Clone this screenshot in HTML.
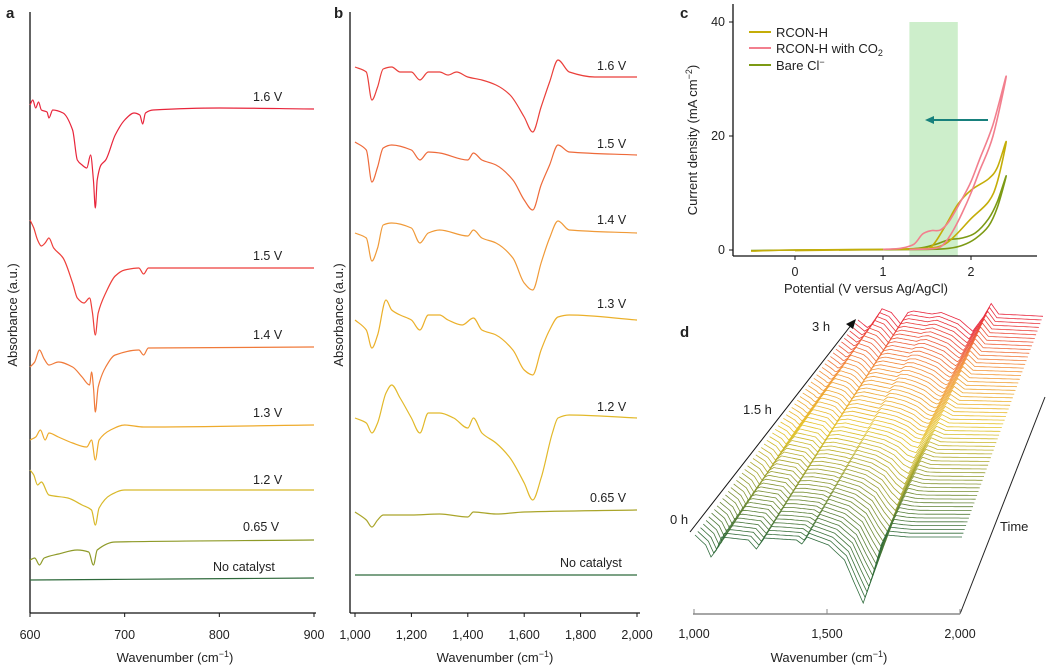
<!DOCTYPE html>
<html><head><meta charset="utf-8">
<style>
html,body{margin:0;padding:0;background:#fff;}
svg{display:block;font-family:"Liberation Sans",Arial,sans-serif;}
text{fill:#222;}
</style></head>
<body>
<svg id="fig" width="1056" height="667" viewBox="0 0 1056 667" xmlns="http://www.w3.org/2000/svg">
  <text x="6" y="18" font-size="15" font-weight="bold">a</text>
  <text x="334" y="18" font-size="15" font-weight="bold">b</text>
  <text x="680" y="18" font-size="15" font-weight="bold">c</text>
  <text x="680" y="337" font-size="15" font-weight="bold">d</text>

  <g stroke="#111" stroke-width="1.3" fill="none">
    <line x1="30" y1="12" x2="30" y2="613"/>
    <line x1="30" y1="613" x2="316" y2="613"/>
  </g>
  <g id="a-ticks"></g>
  <text x="175" y="662" font-size="13" text-anchor="middle">Wavenumber (cm<tspan font-size="9" dy="-5">−1</tspan><tspan dy="5">)</tspan></text>
  <text transform="translate(17,315) rotate(-90)" font-size="13" text-anchor="middle">Absorbance (a.u.)</text>
  <g id="a-curves"></g>

  <g stroke="#111" stroke-width="1.3" fill="none">
    <line x1="350" y1="12" x2="350" y2="613"/>
    <line x1="350" y1="613" x2="640" y2="613"/>
  </g>
  <g id="b-ticks"></g>
  <text x="495" y="662" font-size="13" text-anchor="middle">Wavenumber (cm<tspan font-size="9" dy="-5">−1</tspan><tspan dy="5">)</tspan></text>
  <text transform="translate(343,315) rotate(-90)" font-size="13" text-anchor="middle">Absorbance (a.u.)</text>
  <g id="b-curves"></g>

  <rect id="c-band" fill="#cdeecb"/>
  <g stroke="#111" stroke-width="1.3" fill="none">
    <line x1="733" y1="4" x2="733" y2="256"/>
    <line x1="733" y1="256" x2="1037" y2="256"/>
  </g>
  <g id="c-ticks"></g>
  <text x="866" y="293" font-size="13" text-anchor="middle">Potential (V versus Ag/AgCl)</text>
  <text transform="translate(697,140) rotate(-90)" font-size="13" text-anchor="middle">Current density (mA cm<tspan font-size="9" dy="-5">−2</tspan><tspan dy="5">)</tspan></text>
  <g id="c-curves"></g>
  <g>
    <line x1="988" y1="120" x2="932" y2="120" stroke="#17807c" stroke-width="2"/>
    <polygon points="925,120 934,116 934,124" fill="#17807c"/>
  </g>
  <g font-size="13">
    <g><line x1="749" y1="32" x2="771" y2="32" stroke="#c4ad08" stroke-width="2"/><text x="776" y="37">RCON-H</text></g>
    <g><line x1="749" y1="48" x2="771" y2="48" stroke="#f27f8e" stroke-width="2"/><text x="776" y="53">RCON-H with CO<tspan font-size="9" dy="3">2</tspan></text></g>
    <g><line x1="749" y1="65" x2="771" y2="65" stroke="#7c9a14" stroke-width="2"/><text x="776" y="70">Bare Cl<tspan font-size="9" dy="-5">−</tspan></text></g>
  </g>

  <g id="d-curves"></g>
  <g fill="none">
    <line x1="693" y1="614" x2="960" y2="614" stroke="#888" stroke-width="1.5"/>
    <line x1="960" y1="614" x2="1045" y2="397" stroke="#222" stroke-width="1"/>
    <line x1="690" y1="532" x2="852" y2="324" stroke="#111" stroke-width="1"/>
    <polygon points="856,319 846,324 853,329" fill="#111"/>
  </g>
  <g id="d-ticks"></g>
  <text x="812" y="331" font-size="13">3 h</text>
  <text x="743" y="414" font-size="13">1.5 h</text>
  <text x="670" y="524" font-size="13">0 h</text>
  <text x="1000" y="531" font-size="13">Time</text>
  <text x="829" y="662" font-size="13" text-anchor="middle">Wavenumber (cm<tspan font-size="9" dy="-5">−1</tspan><tspan dy="5">)</tspan></text>
</svg>
<script>
// ---------- Panel a data ----------
const aLabels = ["1.6 V","1.5 V","1.4 V","1.3 V","1.2 V","0.65 V","No catalyst"];
const aOffsets = [500,342,263,185,120,70,32];
const aColors = ["#e8253b","#ee3f3a","#f07a3a","#eeab2c","#d8b92a","#8e9a28","#2f6a3c"];
const aSpec16 = [[600,5],[603,10],[606,2],[609,8],[612,0],[618,-2],[620,-8],[624,0],[635,-3],[645,-20],[650,-50],[655,-55],[660,-58],[664,-45],[667,-70],[669,-98],[671,-70],[675,-55],[680,-50],[690,-25],[700,-10],[710,-3],[716,-5],[719,-14],[722,-3],[730,0],[800,2],[900,1]];
const aSpec15 = [[600,48],[604,40],[608,28],[612,22],[616,25],[620,30],[625,20],[635,10],[645,-15],[650,-30],[657,-35],[663,-30],[666,-45],[669,-67],[672,-45],[680,-25],[690,-8],[700,-2],[715,0],[720,-6],[725,0],[900,0]];
const aSpec14 = [[600,-20],[605,-15],[610,-3],[615,-12],[620,-18],[630,-15],[645,-20],[655,-30],[663,-38],[665,-25],[667,-40],[669,-65],[672,-40],[680,-20],[690,-8],[715,-3],[720,-8],[725,-1],[900,0]];
const aSpec13 = [[600,-15],[606,-12],[611,-5],[616,-15],[620,-8],[630,-12],[645,-18],[660,-22],[665,-15],[669,-35],[673,-15],[685,-5],[700,0],[720,-2],[900,0]];
const aSpec12 = [[600,20],[604,15],[608,5],[612,8],[620,-5],[640,-8],[655,-15],[665,-20],[669,-35],[673,-18],[685,-5],[700,0],[900,0]];
const aSpec065 = [[600,-20],[605,-18],[610,-25],[615,-18],[630,-14],[650,-10],[662,-12],[667,-25],[671,-10],[690,-2],[900,0]];
const aSpecNone = [[600,-2],[750,-1],[900,0]];
const aSpectra = [aSpec16,aSpec15,aSpec14,aSpec13,aSpec12,aSpec065,aSpecNone];
const aTicks = [600,700,800,900];
const aLabelPos = [[253,101],[253,260],[253,339],[253,417],[253,484],[243,531],[213,571]];

// ---------- Panel b data ----------
const bLabels = ["1.6 V","1.5 V","1.4 V","1.3 V","1.2 V","0.65 V","No catalyst"];
const bOffsets = [535,457,379,292,194,100,37];
const bColors = ["#ea3f3a","#ee6a3a","#f09a38","#ebb02a","#e2b92a","#aaa52a","#2f6a3c"];
const bSpec16 = [[1000,10],[1040,5],[1060,-23],[1080,-10],[1100,8],[1130,10],[1160,5],[1200,5],[1230,-3],[1260,5],[1300,5],[1330,2],[1360,5],[1400,0],[1450,-3],[1500,-8],[1550,-18],[1600,-40],[1630,-55],[1660,-30],[1690,-5],[1720,17],[1760,5],[1850,0],[2000,0]];
const bSpec15 = [[1000,13],[1040,5],[1060,-27],[1080,-12],[1100,7],[1130,10],[1200,5],[1230,-5],[1260,3],[1300,2],[1400,-5],[1420,2],[1450,-5],[1500,-10],[1560,-25],[1600,-45],[1630,-55],[1660,-30],[1690,-10],[1720,10],[1760,3],[2000,0]];
const bSpec14 = [[1000,0],[1040,-5],[1060,-28],[1080,-15],[1100,8],[1130,10],[1200,5],[1230,-10],[1260,0],[1300,3],[1400,-3],[1420,3],[1450,-5],[1500,-10],[1560,-25],[1600,-50],[1630,-57],[1660,-30],[1690,-5],[1720,12],[1760,3],[2000,0]];
const bSpec13 = [[1000,0],[1040,-10],[1060,-28],[1080,-15],[1110,20],[1130,10],[1160,5],[1200,0],[1230,-10],[1260,5],[1300,5],[1330,0],[1380,-5],[1420,2],[1450,-10],[1500,-15],[1560,-30],[1600,-50],[1630,-55],[1660,-30],[1690,-10],[1720,3],[1760,5],[2000,0]];
const bSpec12 = [[1000,0],[1040,-5],[1060,-15],[1080,-5],[1110,25],[1130,33],[1160,20],[1200,0],[1230,-15],[1260,5],[1300,5],[1350,0],[1400,-10],[1420,0],[1450,-15],[1500,-25],[1550,-40],[1600,-65],[1630,-82],[1660,-60],[1700,-15],[1720,0],[1760,3],[2000,0]];
const bSpec065 = [[1000,0],[1040,-8],[1060,-15],[1080,-8],[1100,-3],[1200,-3],[1300,-2],[1400,-5],[1420,0],[1500,-2],[1600,0],[2000,2]];
const bSpecNone = [[1000,0],[1500,0],[2000,0]];
const bSpectra = [bSpec16,bSpec15,bSpec14,bSpec13,bSpec12,bSpec065,bSpecNone];
const bTicks = [1000,1200,1400,1600,1800,2000];
const bTickLabels = ["1,000","1,200","1,400","1,600","1,800","2,000"];
const bLabelPos = [[597,70],[597,148],[597,224],[597,308],[597,411],[590,502],[560,567]];

// ---------- Panel c data ----------
const cXTicks = [0,1,2];
const cYTicks = [0,20,40];
const cBand = [1.3,1.85];
const cRconH = [[-0.5,-0.2],[0,0],[1,0.1],[1.4,0.2],[1.55,0.6],[1.7,4],[1.85,8],[2.0,10.5],[2.2,12.5],[2.3,14.5],[2.4,19],[2.3,12],[2.2,8.5],[2.0,5.5],[1.85,3],[1.7,1],[1.5,0.3],[1.0,0.1],[0,-0.1]];
const cRconCO2 = [[1.0,0.1],[1.2,0.3],[1.35,1],[1.45,2.8],[1.55,3.4],[1.65,3.5],[1.75,5],[1.9,9],[2.0,12],[2.1,16],[2.25,22],[2.4,30.5],[2.25,20],[2.1,14],[2.0,10],[1.9,6.5],[1.8,3.5],[1.7,1.2],[1.6,0.3],[1.3,0.1]];
const cBareCl = [[-0.5,-0.1],[0,0],[1,0.1],[1.4,0.3],[1.6,1],[1.75,1.8],[1.9,2.1],[2.05,3],[2.2,5.5],[2.3,8.5],[2.4,13],[2.3,7.5],[2.2,4.2],[2.05,2],[1.9,0.8],[1.75,0.3],[1.5,0.1],[0.5,0]];
const cSeries = [cBareCl,cRconH,cRconCO2];
const cColors = ["#7c9a14","#c4ad08","#f27f8e"];

// ---------- Panel d data ----------
const dTicks = [1000,1500,2000];
const dTickLabels = ["1,000","1,500","2,000"];
const dTraceCount = 60;
const dSpec0h = [[1000,0],[1040,-10],[1060,-22],[1080,-15],[1100,-2],[1200,-5],[1230,-14],[1260,-3],[1380,-5],[1400,-9],[1420,-2],[1500,-10],[1560,-25],[1600,-50],[1630,-68],[1660,-45],[1700,-8],[1720,0],[1800,-2],[2000,-2]];
const dSpec15h = [[1000,0],[1040,-6],[1060,-12],[1080,-6],[1120,5],[1200,0],[1230,-8],[1260,2],[1300,3],[1400,-3],[1420,2],[1500,-3],[1560,-10],[1600,-18],[1630,-20],[1660,-10],[1700,2],[1720,8],[1760,3],[2000,2]];
const dSpec3h = [[1000,0],[1050,-10],[1080,-5],[1130,15],[1180,10],[1230,-5],[1270,10],[1300,12],[1400,8],[1450,10],[1550,0],[1620,-15],[1680,5],[1720,22],[1760,8],[2000,5]];

const NS = "http://www.w3.org/2000/svg";
function mk(tag, attrs, parent){const e=document.createElementNS(NS,tag);for(const k in attrs)e.setAttribute(k,attrs[k]);parent.appendChild(e);return e;}
function interp(spec, x){
  if(x<=spec[0][0])return spec[0][1];
  for(let i=1;i<spec.length;i++){if(x<=spec[i][0]){const a=spec[i-1],b=spec[i];return a[1]+(b[1]-a[1])*(x-a[0])/(b[0]-a[0]);}}
  return spec[spec.length-1][1];
}
// monotone-x cubic (no loops)
function monoPath(pts){
  const n=pts.length, sec=[], m=[];
  for(let i=0;i<n-1;i++)sec.push((pts[i+1][1]-pts[i][1])/(pts[i+1][0]-pts[i][0]));
  for(let i=0;i<n;i++){
    if(i===0)m.push(sec[0]);else if(i===n-1)m.push(sec[n-2]);
    else m.push(sec[i-1]*sec[i]<=0?0:2/(1/sec[i-1]+1/sec[i]));
  }
  let d="M"+pts[0][0].toFixed(1)+","+pts[0][1].toFixed(1);
  for(let i=0;i<n-1;i++){
    const dx=(pts[i+1][0]-pts[i][0])/3;
    d+=" C"+(pts[i][0]+dx).toFixed(1)+","+(pts[i][1]+m[i]*dx).toFixed(1)+" "+(pts[i+1][0]-dx).toFixed(1)+","+(pts[i+1][1]-m[i+1]*dx).toFixed(1)+" "+pts[i+1][0].toFixed(1)+","+pts[i+1][1].toFixed(1);
  }
  return d;
}
function smoothPath(pts){
  let d="M"+pts[0][0].toFixed(1)+","+pts[0][1].toFixed(1);
  for(let i=0;i<pts.length-1;i++){
    const p0=pts[i-1]||pts[i],p1=pts[i],p2=pts[i+1],p3=pts[i+2]||p2;
    const c1=[p1[0]+(p2[0]-p0[0])/6,p1[1]+(p2[1]-p0[1])/6];
    const c2=[p2[0]-(p3[0]-p1[0])/6,p2[1]-(p3[1]-p1[1])/6];
    d+=" C"+c1[0].toFixed(1)+","+c1[1].toFixed(1)+" "+c2[0].toFixed(1)+","+c2[1].toFixed(1)+" "+p2[0].toFixed(1)+","+p2[1].toFixed(1);
  }
  return d;
}

// Panel a
const axA = v => 30 + (v-600)*(314-30)/300;
const ayA = v => 610 - v;
const gA = document.getElementById("a-curves");
aSpectra.forEach((s,i)=>{
  const pts=s.map(p=>[axA(p[0]),ayA(aOffsets[i]+p[1])]);
  const p=mk("path",{d:monoPath(pts),fill:"none",stroke:aColors[i],"stroke-width":1.2},gA);
  
  const t=mk("text",{x:aLabelPos[i][0],y:aLabelPos[i][1],"font-size":12.5},gA);
  
  
  t.textContent=aLabels[i];
});
const tA=document.getElementById("a-ticks");
aTicks.forEach(v=>{
  mk("line",{x1:axA(v),x2:axA(v),y1:613,y2:617,stroke:"#111"},tA);
  const t=mk("text",{x:axA(v),y:639,"font-size":12.5,"text-anchor":"middle"},tA);
  
  
  t.textContent=v;
});

// Panel b
const axB = v => 355 + (v-1000)*(637-355)/1000;
const ayB = v => 612 - v;
const gB = document.getElementById("b-curves");
bSpectra.forEach((s,i)=>{
  const pts=s.map(p=>[axB(p[0]),ayB(bOffsets[i]+p[1])]);
  const p=mk("path",{d:monoPath(pts),fill:"none",stroke:bColors[i],"stroke-width":1.2},gB);
  
  const t=mk("text",{x:bLabelPos[i][0],y:bLabelPos[i][1],"font-size":12.5},gB);
  
  
  t.textContent=bLabels[i];
});
const tB=document.getElementById("b-ticks");
bTicks.forEach((v,i)=>{
  mk("line",{x1:axB(v),x2:axB(v),y1:613,y2:617,stroke:"#111"},tB);
  const t=mk("text",{x:axB(v),y:639,"font-size":12.5,"text-anchor":"middle"},tB);
  
  
  t.textContent=bTickLabels[i];
});

// Panel c
const axC = v => 795 + v*88;
const ayC = v => 250 - v*5.7;
const band=document.getElementById("c-band");
band.setAttribute("x",axC(cBand[0]));band.setAttribute("width",axC(cBand[1])-axC(cBand[0]));
band.setAttribute("y",ayC(40));band.setAttribute("height",256-ayC(40));
const gC=document.getElementById("c-curves");
cSeries.forEach((s,i)=>{
  const pts=s.map(p=>[axC(p[0]),ayC(p[1])]);
  const p=mk("path",{d:smoothPath(pts),fill:"none",stroke:cColors[i],"stroke-width":1.6},gC);
  
});
const tC=document.getElementById("c-ticks");
cXTicks.forEach(v=>{
  mk("line",{x1:axC(v),x2:axC(v),y1:256,y2:260,stroke:"#111"},tC);
  const t=mk("text",{x:axC(v),y:276,"font-size":12.5,"text-anchor":"middle"},tC);
  
  
  t.textContent=v;
});
cYTicks.forEach(v=>{
  mk("line",{x1:729,x2:733,y1:ayC(v),y2:ayC(v),stroke:"#111"},tC);
  const t=mk("text",{x:725,y:ayC(v)+4,"font-size":12.5,"text-anchor":"end"},tC);
  
  
  t.textContent=v;
});

// Panel d (perspective waterfall)
const axD = v => 694 + (v-1000)*(960-694)/1000;
const gD=document.getElementById("d-curves");
function lerpCol(c1,c2,t){const a=[1,3,5].map(i=>parseInt(c1.substr(i,2),16)),b=[1,3,5].map(i=>parseInt(c2.substr(i,2),16));return "rgb("+a.map((x,i)=>Math.round(x+(b[i]-x)*t)).join(",")+")";}
function colAt(t){ if(t<0.5) return lerpCol("#2f6b3c","#e6c52a",t/0.5); if(t<0.75) return lerpCol("#e6c52a","#f3953a",(t-0.5)/0.25); return lerpCol("#f3953a","#e8263e",(t-0.75)/0.25);}
const dFrontX=695, dBackX=858, dFrontW=267, dBackW=185, dFrontY=535, dBackY=320;
const dSamples=[];for(let w=1000;w<=2000;w+=10)dSamples.push(w);
for(let k=dTraceCount-1;k>=0;k--){
  const t=k/(dTraceCount-1);
  const x0=dFrontX+(dBackX-dFrontX)*t, wdt=dFrontW+(dBackW-dFrontW)*t, y0=dFrontY+(dBackY-dFrontY)*t;
  const amp=1-0.25*t;
  const pts=dSamples.map(w=>{
    const v0=interp(dSpec0h,w),v1=interp(dSpec15h,w),v2=interp(dSpec3h,w);
    const v = t<0.5 ? v0+(v1-v0)*(t/0.5) : v1+(v2-v1)*((t-0.5)/0.5);
    return [x0+(w-1000)/1000*wdt, y0 - v*amp];
  });
  const p=mk("path",{d:"M"+pts.map(q=>q[0].toFixed(1)+","+q[1].toFixed(1)).join(" L"),fill:"none",stroke:colAt(t),"stroke-width":0.8},gD);
  
}
const tD=document.getElementById("d-ticks");
dTicks.forEach((v,i)=>{
  mk("line",{x1:axD(v),x2:axD(v),y1:609,y2:614,stroke:"#888"},tD);
  const t=mk("text",{x:axD(v),y:638,"font-size":12.5,"text-anchor":"middle"},tD);
  
  
  t.textContent=dTickLabels[i];
});
</script>
</body></html>
